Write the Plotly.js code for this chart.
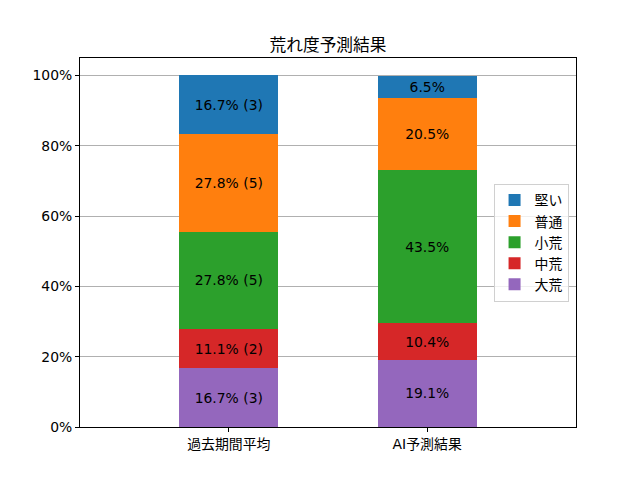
<!DOCTYPE html>
<html>
<head>
<meta charset="utf-8">
<script src="https://cdn.plot.ly/plotly-3.0.1.min.js"></script>
<style>html,body{margin:0;padding:0;background:#fff;}#chart{width:640px;height:480px;}</style>
</head>
<body>
<div id="chart"></div>
<script>
const categories = ["過去期間平均", "AI予測結果"];
const seriesNames = ["大荒", "中荒", "小荒", "普通", "堅い"];
const colors = ["#9467bd", "#d62728", "#2ca02c", "#ff7f0e", "#1f77b4"];
const pastValues = [16.7, 11.1, 27.8, 27.8, 16.7];
const pastCounts = [3, 2, 5, 5, 3];
const aiValues = [19.1, 10.4, 43.5, 20.5, 6.5];
const yTickVals = [0, 20, 40, 60, 80, 100];
const yTickText = ["0%", "20%", "40%", "60%", "80%", "100%"];

const FONT = "DejaVu Sans, 'Noto Sans CJK JP', sans-serif";
const traces = seriesNames.map((name, i) => ({
  type: "bar",
  name: name,
  x: categories,
  y: [pastValues[i], aiValues[i]],
  text: [pastValues[i].toFixed(1) + "% (" + pastCounts[i] + ")", aiValues[i].toFixed(1) + "%"],
  textposition: "inside",
  insidetextanchor: "middle",
  textangle: 0,
  constraintext: "none",
  textfont: {color: "#000", size: 13.9, family: FONT},
  marker: {color: colors[i], line: {width: 0}},
  width: 0.5,
  hoverinfo: "none"
}));

const layout = {
  width: 640, height: 480,
  margin: {l: 80, r: 64, t: 58, b: 53},
  paper_bgcolor: "#fff", plot_bgcolor: "#fff",
  barmode: "stack",
  font: {family: FONT, size: 13.9, color: "#000"},
  title: {text: "荒れ度予測結果", font: {size: 16.7, family: FONT, color: "#000"}, x: 0.5, xref: "paper", xanchor: "center", y: 1, yref: "paper", yanchor: "bottom", pad: {b: 7}},
  xaxis: {
    range: [-0.75, 1.75],
    showline: true, linecolor: "#000", linewidth: 1, mirror: true,
    ticks: "outside", ticklen: 4, tickcolor: "#000", tickwidth: 1,
    showgrid: false, zeroline: false,
    tickfont: {size: 13.9, family: FONT}
  },
  yaxis: {
    range: [0, 105],
    tickvals: yTickVals, ticktext: yTickText,
    showline: true, linecolor: "#000", linewidth: 1, mirror: true,
    ticks: "outside", ticklen: 4, tickcolor: "#000", tickwidth: 1,
    showgrid: true, gridcolor: "#b0b0b0", gridwidth: 1,
    zeroline: false,
    tickfont: {size: 13.9, family: FONT}
  },
  legend: {
    x: 0.985, xanchor: "right", y: 0.5, yanchor: "middle",
    traceorder: "reversed",
    bgcolor: "rgba(255,255,255,0.8)", bordercolor: "#d0d0d0", borderwidth: 1,
    font: {size: 13.9, family: FONT}
  },
  showlegend: true
};

Plotly.newPlot("chart", traces, layout, {displayModeBar: false, staticPlot: true});
</script>
</body>
</html>
